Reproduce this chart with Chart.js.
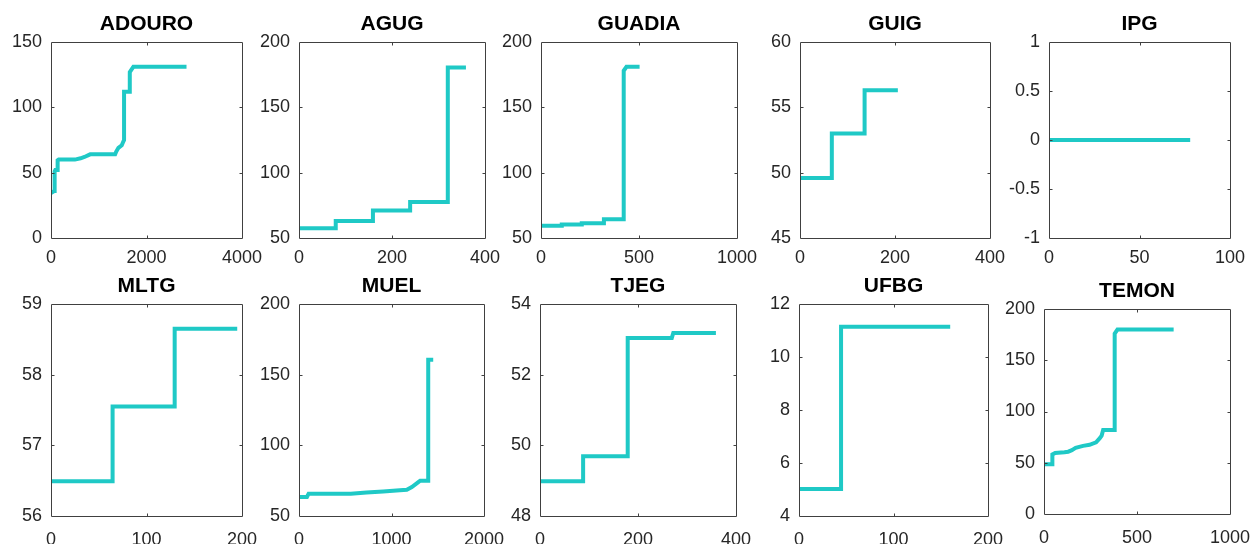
<!DOCTYPE html>
<html>
<head>
<meta charset="utf-8">
<script src="https://cdn.jsdelivr.net/npm/chart.js@4"></script>
<style>
  html, body { margin: 0; padding: 0; background: #fff; }
  #fig { position: relative; width: 1256px; height: 544px; overflow: hidden; }
  #fig canvas { position: absolute; }
</style>
</head>
<body>
<div id="fig"></div>
<script>
const titles = ['ADOURO', 'AGUG', 'GUADIA', 'GUIG', 'IPG', 'MLTG', 'MUEL', 'TJEG', 'UFBG', 'TEMON'];

// axis limits and tick spacing, one entry per panel
const xMax  = [4000, 400, 1000, 400, 100, 200, 2000, 400, 200, 1000];
const xStep = [2000, 200, 500, 200, 50, 100, 1000, 200, 100, 500];
const yMin  = [0, 50, 50, 45, -1, 56, 50, 48, 4, 0];
const yMax  = [150, 200, 200, 60, 1, 59, 200, 54, 12, 200];
const yStep = [50, 50, 50, 5, 0.5, 1, 50, 2, 2, 50];

// curves
const adouroX = [0, 70, 76, 76, 90, 139, 139, 160, 500, 620, 700, 820, 1343, 1364, 1412, 1482, 1517, 1530, 1530, 1640, 1650, 1650, 1725, 2838];
const adouroY = [34.5, 36, 37, 51, 52, 52, 59.5, 60, 60, 61, 62, 64, 64, 66, 69, 71, 74, 75, 112, 112, 113, 127, 131, 131];

const agugX = [0, 79, 79, 159, 159, 239, 239, 320, 320, 359];
const agugY = [57.5, 57.5, 63, 63, 71, 71, 77.5, 77.5, 180.5, 180.5];

const guadiaX = [0, 106, 106, 208, 208, 321, 321, 422, 422, 436, 503];
const guadiaY = [59.3, 59.3, 60.3, 60.3, 61.3, 61.3, 64.3, 64.3, 178, 181, 181];

const guigX = [0, 67, 67, 136, 136, 206];
const guigY = [49.6, 49.6, 53, 53, 56.3, 56.3];

const ipgX = [0, 78];
const ipgY = [0, 0];

const mltgX = [0, 64.5, 64.5, 129.5, 129.5, 195];
const mltgY = [56.49, 56.49, 57.55, 57.55, 58.65, 58.65];

const muelX = [0, 86, 104, 560, 730, 910, 1090, 1165, 1220, 1290, 1310, 1397, 1397, 1451];
const muelY = [63.5, 63.5, 65.8, 65.8, 66.6, 67.3, 68.2, 68.6, 70.5, 74, 75, 75, 160.5, 160.5];

const tjegX = [0, 88, 88, 179, 179, 269, 272, 359];
const tjegY = [48.98, 48.98, 49.69, 49.69, 53.04, 53.04, 53.18, 53.18];

const ufbgX = [0, 44.5, 44.5, 160];
const ufbgY = [5.02, 5.02, 11.14, 11.14];

const temonX = [0, 45, 45, 60, 110, 130, 150, 170, 210, 245, 280, 300, 310, 318, 380, 380, 395, 697];
const temonY = [48.6, 48.6, 58, 59.5, 60.3, 60.8, 62.3, 64.5, 66.5, 67.5, 70, 74, 76.5, 82, 82, 176, 180, 180];

const series = [
  [adouroX, adouroY], [agugX, agugY], [guadiaX, guadiaY], [guigX, guigY], [ipgX, ipgY],
  [mltgX, mltgY], [muelX, muelY], [tjegX, tjegY], [ufbgX, ufbgY], [temonX, temonY]
];

// plot boxes on the page: left, top, right, bottom
const boxes = [
  [51, 42, 242, 238], [299, 42, 485, 238], [541, 42, 737, 238], [800, 42, 990, 238], [1049, 42, 1230, 238],
  [51, 304, 242, 516], [299, 304, 484, 516], [540, 304, 736, 516], [799, 304, 988, 516], [1044, 309, 1230, 514]
];

const PAD_L = 60, PAD_T = 45, PAD_R = 35, PAD_B = 40;
const LINE = '#1fc9c6';
const AXIS = '#262626';
const FONT = '"Liberation Sans", Arial, sans-serif';

// box around the axes with short inward ticks on all four sides
const framePlugin = {
  id: 'frame',
  afterDraw(chart) {
    const { ctx, chartArea: a, scales: { x, y } } = chart;
    const l = a.left + 0.5, r = a.right + 0.5, t = a.top + 0.5, b = a.bottom + 0.5;
    const len = 3;
    ctx.save();
    ctx.strokeStyle = '#404040';
    ctx.lineWidth = 1;
    ctx.beginPath();
    ctx.rect(l, t, r - l, b - t);
    x.ticks.forEach(tk => {
      const px = Math.round(x.getPixelForValue(tk.value)) + 0.5;
      if (px <= l + 1 || px >= r - 1) return;
      ctx.moveTo(px, b); ctx.lineTo(px, b - len);
      ctx.moveTo(px, t); ctx.lineTo(px, t + len);
    });
    y.ticks.forEach(tk => {
      const py = Math.round(y.getPixelForValue(tk.value)) + 0.5;
      if (py <= t + 1 || py >= b - 1) return;
      ctx.moveTo(l, py); ctx.lineTo(l + len, py);
      ctx.moveTo(r, py); ctx.lineTo(r - len, py);
    });
    ctx.stroke();
    ctx.restore();
  }
};

const fig = document.getElementById('fig');

titles.forEach((name, i) => {
  const [L, T, R, B] = boxes[i];
  const w = R - L + PAD_L + PAD_R;
  const h = B - T + PAD_T + PAD_B;
  const canvas = document.createElement('canvas');
  canvas.width = w;
  canvas.height = h;
  canvas.style.left = (L - PAD_L) + 'px';
  canvas.style.top = (T - PAD_T) + 'px';
  fig.appendChild(canvas);

  const [xs, ys] = series[i];
  const lowerRow = i >= 5;

  new Chart(canvas.getContext('2d'), {
    type: 'line',
    data: {
      datasets: [{
        data: xs.map((x, k) => ({ x: x, y: ys[k] })),
        borderColor: LINE,
        borderWidth: 4,
        pointRadius: 0,
        tension: 0,
        clip: 0
      }]
    },
    options: {
      responsive: false,
      animation: false,
      devicePixelRatio: 1,
      layout: { padding: { left: 0, top: 0, right: PAD_R, bottom: 0 } },
      plugins: {
        legend: { display: false },
        tooltip: { enabled: false },
        title: {
          display: true,
          text: name,
          fullSize: false,
          color: '#000',
          font: { family: FONT, size: 21, weight: 'bold', lineHeight: 1 },
          padding: { top: 16.5, bottom: 7.5 }
        }
      },
      scales: {
        x: {
          type: 'linear',
          min: 0,
          max: xMax[i],
          grid: { display: false, drawTicks: false },
          border: { display: false },
          ticks: {
            stepSize: xStep[i],
            autoSkip: false,
            maxRotation: 0,
            padding: lowerRow ? 13 : 9.5,
            color: AXIS,
            font: { family: FONT, size: 18 },
            callback: v => String(v)
          },
          afterFit: s => { s.height = PAD_B; s.paddingLeft = 0; s.paddingRight = 0; }
        },
        y: {
          type: 'linear',
          min: yMin[i],
          max: yMax[i],
          grid: { display: false, drawTicks: false },
          border: { display: false },
          ticks: {
            stepSize: yStep[i],
            autoSkip: false,
            padding: 9,
            color: AXIS,
            font: { family: FONT, size: 18 },
            callback: v => String(v)
          },
          afterFit: s => { s.width = PAD_L; s.paddingTop = 0; s.paddingBottom = 0; }
        }
      }
    },
    plugins: [framePlugin]
  });
});
</script>
</body>
</html>
